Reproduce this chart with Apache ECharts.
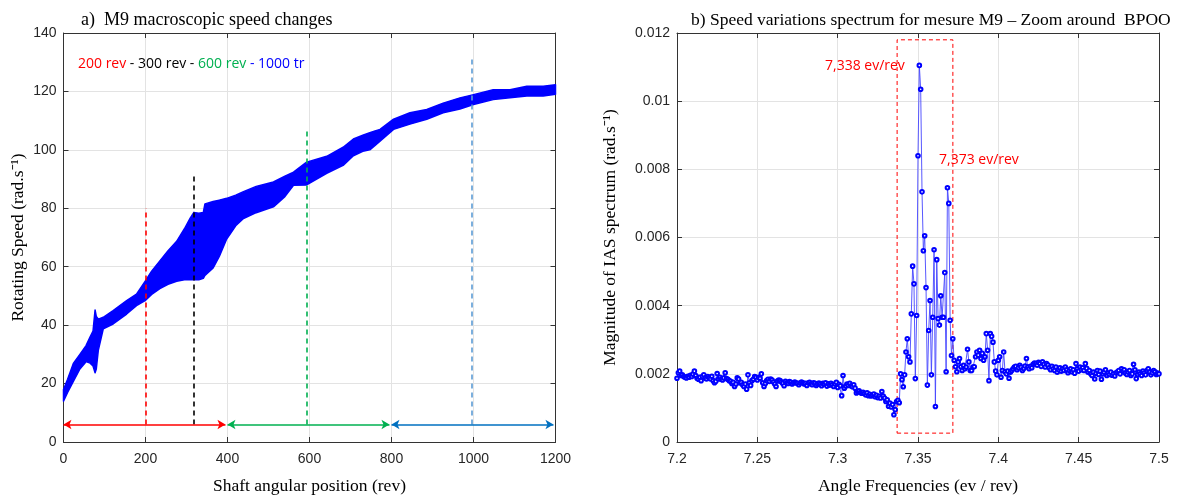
<!DOCTYPE html>
<html>
<head>
<meta charset="utf-8">
<script src="https://cdn.jsdelivr.net/npm/echarts@6.0.0/dist/echarts.min.js"></script>
<style>
html,body{margin:0;padding:0;background:#fff;}
#c{width:1188px;height:500px;}
</style>
</head>
<body>
<div id="c"></div>
<script>
// ---------- Panel a) : macroscopic speed envelope ----------
const posRev    = [0,10,24,40,55,65,72,77,80,85,97,121,154,178,199,215,235,255,276,295,309,318,330,341,345,365,380,398,420,439,470,512,540,561,593,642,682,707,730,747,760,772,805,845,886,926,967,1000,1048,1089,1130,1170,1200];
const speedLow  = [14,17,20.7,25,27.5,27,26,23.7,25,31.5,38.7,40.4,43.8,46.7,48.4,50.5,52.5,54,55,55.5,55.5,55.5,55.5,56,57,59.6,63.5,69.5,74,76.5,78.5,80.5,84,87.9,88,92,94.7,98,99.5,100,101.5,103,107,108.8,110.5,112.7,114,115.5,117.2,117.8,118.4,118.4,119];
const speedHigh = [18,21.5,26.9,30,33,36,38,45.2,43,42,42.7,45,48.4,50.6,55,58.5,62,65.5,68.7,73,76.6,78.6,78.3,78.6,81.5,82.3,82.8,83.4,84.5,85.7,87.5,89,91,92.4,95.8,97.8,100.9,103.7,105,105.9,106.5,107,110.5,112.7,113.8,116,117.8,118.9,120.6,120.6,121.8,121.8,122.3];

// reference marker lines
const markerRev   = [200, 318, 594, 996];
const markerTop   = [80, 91.5, 107, 131];
const markerColor = ['#ff0000', '#000000', '#00b050', '#5b9bd5'];
const markerBottom = 6;

// range arrows
const rangeFrom  = [0, 400, 800];
const rangeTo    = [395, 795, 1195];
const rangeColor = ['#ff0000', '#00b050', '#0070c0'];
const rangeLevel = 6;

// ---------- Panel b) : IAS spectrum (bins k / 1200 ev/rev) ----------
const SPEC_K0 = 8640;
const REV_SPAN = 1200;
const iasMilli = [ // magnitude x 1e-3 rad.s^-1
1.87,2.03,2.08,1.95,1.97,1.92,1.90,1.88,1.93,1.90,
1.96,1.92,1.99,2.08,1.95,1.87,1.84,1.90,1.80,1.92,
1.97,1.88,1.85,1.92,1.88,1.85,1.93,1.80,1.74,1.78,
2.01,1.85,1.90,1.84,1.82,1.88,2.03,1.86,1.84,1.80,
1.78,1.72,1.75,1.63,1.70,1.88,1.85,1.73,1.75,1.68,
1.63,1.70,1.55,1.97,1.74,1.66,1.80,1.84,1.92,1.90,
1.82,1.90,1.87,2.00,1.74,1.63,1.72,1.80,1.84,1.78,
1.85,1.82,1.76,1.70,1.63,1.79,1.82,1.80,1.76,1.72,
1.65,1.78,1.74,1.72,1.77,1.75,1.70,1.74,1.76,1.73,
1.72,1.68,1.73,1.76,1.74,1.70,1.72,1.66,1.73,1.75,
1.71,1.68,1.74,1.72,1.66,1.70,1.73,1.69,1.65,1.72,
1.70,1.74,1.64,1.71,1.67,1.72,1.68,1.63,1.70,1.75,
1.60,1.69,1.65,1.36,1.95,1.58,1.64,1.70,1.66,1.72,
1.65,1.62,1.68,1.58,1.44,1.48,1.50,1.45,1.43,1.46,
1.42,1.38,1.44,1.36,1.40,1.35,1.38,1.41,1.33,1.37,
1.30,1.34,1.29,1.48,1.35,1.29,1.19,1.24,1.05,1.14,
1.03,1.10,0.80,0.95,1.19,1.22,1.15,2.00,1.83,1.62,
1.97,2.64,3.03,2.50,2.35,3.76,5.16,4.64,1.86,3.71,
8.40,11.05,10.35,7.34,5.61,6.05,4.53,1.67,3.27,4.15,
1.97,3.66,5.64,1.04,5.35,3.62,3.43,4.29,3.66,3.66,
4.97,2.06,7.46,7.00,3.57,2.54,3.03,2.40,2.21,2.06,
2.35,2.45,2.21,2.10,2.25,2.15,2.20,2.72,2.35,2.10,
2.10,2.20,2.21,2.50,2.64,2.55,2.69,2.45,2.60,2.40,
2.50,3.18,2.69,1.80,3.18,3.10,2.93,2.35,2.08,1.97,
2.40,2.50,1.90,2.10,2.64,2.06,2.00,2.08,1.87,2.05,
2.10,2.15,2.20,2.22,2.12,2.18,2.25,2.20,2.10,2.16,
2.23,2.45,2.20,2.15,2.22,2.18,2.28,2.32,2.30,2.25,
2.34,2.30,2.22,2.35,2.28,2.20,2.30,2.26,2.18,2.12,
2.22,2.15,2.10,2.20,2.05,2.12,2.18,2.08,2.15,2.10,
2.20,2.12,2.03,2.10,2.15,2.06,2.12,2.02,2.30,2.15,
2.08,2.20,2.12,2.18,2.10,2.30,2.16,2.05,2.10,2.00,
1.95,2.05,1.85,2.02,2.10,1.98,2.08,1.84,2.00,2.05,
2.12,1.95,2.02,1.98,2.05,1.96,2.00,1.94,2.03,2.06,
2.10,2.00,2.15,2.08,2.12,2.02,1.98,2.05,2.10,1.95,
2.00,2.28,2.12,1.86,1.98,2.05,2.00,1.95,2.08,2.02,
1.97,2.10,2.15,2.05,1.97,2.03,2.10,2.06,1.98,2.02,
2.00];

// zoom box around BPOO
const boxFreq = [7.337, 7.3717];
const boxMag  = [0.00026, 0.0118];

const leftXTicks  = {min:0, max:1200, interval:200};
const leftYTicks  = {min:0, max:140, interval:20};
const rightXTicks = {min:7.2, max:7.5, interval:0.05};
const rightYTicks = {min:0, max:0.012, interval:0.002};

// ---------- build ----------
const bandData = posRev.map((x,i)=>[x, speedLow[i], speedHigh[i]]);
const specData = iasMilli.map((v,i)=>[(SPEC_K0+i)/REV_SPAN, v/1000]);

const markerLines = markerRev.map((x,i)=>[
  {coord:[x, markerBottom], lineStyle:{color:markerColor[i], type:[5,4], width:1.6}},
  {coord:[x, markerTop[i]]}
]);
const rangeLines = rangeFrom.map((x,i)=>[
  {coord:[x, rangeLevel], lineStyle:{color:rangeColor[i], type:'solid', width:1.6}, itemStyle:{color:rangeColor[i]}},
  {coord:[rangeTo[i], rangeLevel]}
]);

const axisCol = '#333333';
const gridCol = '#e3e3e3';
const labFont = {fontFamily:'Liberation Sans, Arial, sans-serif', fontSize:14, color:'#262626'};
const nameFont = {fontFamily:'Liberation Serif, Times New Roman, serif', fontSize:17.5, color:'#000'};
const titleFontA = {fontFamily:'Liberation Serif, Times New Roman, serif', fontSize:18, fontWeight:'normal', color:'#000'};
const titleFontB = {fontFamily:'Liberation Serif, Times New Roman, serif', fontSize:17.5, fontWeight:'normal', color:'#000'};
const plainNum = v => String(+v.toFixed(6));

function xAx(gi, t, name, nameGap){
  return {type:'value', gridIndex:gi, min:t.min, max:t.max, interval:t.interval, position:'bottom',
    name:name, nameLocation:'middle', nameGap:nameGap, nameTextStyle:nameFont,
    axisLine:{show:true, onZero:false, lineStyle:{color:axisCol, width:1}},
    axisTick:{show:true, inside:true, length:5, lineStyle:{color:axisCol}},
    axisLabel:Object.assign({margin:10, formatter:plainNum}, labFont),
    splitLine:{show:true, lineStyle:{color:gridCol, width:1}}};
}
function xAxTop(gi, t){
  return {type:'value', gridIndex:gi, min:t.min, max:t.max, interval:t.interval, position:'top',
    axisLine:{show:true, onZero:false, lineStyle:{color:axisCol, width:1}},
    axisTick:{show:true, inside:true, length:5, lineStyle:{color:axisCol}},
    axisLabel:{show:false}, splitLine:{show:false}};
}
function yAx(gi, t, name, nameGap){
  return {type:'value', gridIndex:gi, min:t.min, max:t.max, interval:t.interval, position:'left',
    name:name, nameLocation:'middle', nameGap:nameGap, nameTextStyle:nameFont,
    axisLine:{show:true, onZero:false, lineStyle:{color:axisCol, width:1}},
    axisTick:{show:true, inside:true, length:5, lineStyle:{color:axisCol}},
    axisLabel:Object.assign({margin:7, formatter:plainNum}, labFont),
    splitLine:{show:true, lineStyle:{color:gridCol, width:1}}};
}
function yAxRight(gi, t){
  return {type:'value', gridIndex:gi, min:t.min, max:t.max, interval:t.interval, position:'right',
    axisLine:{show:true, onZero:false, lineStyle:{color:axisCol, width:1}},
    axisTick:{show:true, inside:true, length:5, lineStyle:{color:axisCol}},
    axisLabel:{show:false}, splitLine:{show:false}};
}

function renderBand(params, api){
  if (params.dataIndex !== 0) return null;
  const top = [], bot = [];
  for (let i = 0; i < posRev.length; i++){
    top.push(api.coord([posRev[i], speedHigh[i]]));
    bot.push(api.coord([posRev[i], speedLow[i]]));
  }
  return {type:'polygon', shape:{points: top.concat(bot.reverse())},
    style:{fill:'#0000ff', stroke:'#0000ff', lineWidth:1.5, lineJoin:'round'}};
}

const chart = echarts.init(document.getElementById('c'), null, {renderer:'canvas'});
chart.setOption({
  animation:false,
  backgroundColor:'#ffffff',
  title:[
    {text:'a)  M9 macroscopic speed changes', left:76, top:6, textStyle:titleFontA},
    {text:'b) Speed variations spectrum for mesure M9 \u2013 Zoom around  BPOO', left:686, top:6, textStyle:titleFontB}
  ],
  grid:[
    {left:63.5, top:33, width:492, height:413},
    {left:677, top:33, width:482, height:413}
  ],
  xAxis:[
    xAx(0, leftXTicks, 'Shaft angular position (rev)', 35),
    xAx(1, rightXTicks, 'Angle Frequencies (ev / rev)', 35),
    xAxTop(0, leftXTicks),
    xAxTop(1, rightXTicks)
  ],
  yAxis:[
    yAx(0, leftYTicks, 'Rotating Speed (rad.s\u207B\u00B9)', 36),
    yAx(1, rightYTicks, 'Magnitude of IAS spectrum (rad.s\u207B\u00B9)', 58),
    yAxRight(0, leftYTicks),
    yAxRight(1, rightYTicks)
  ],
  series:[
    {type:'custom', name:'speed', xAxisIndex:0, yAxisIndex:0, data:bandData,
     encode:{x:0, y:[1,2]}, renderItem:renderBand, silent:true, z:2},
    {type:'line', name:'markers', xAxisIndex:0, yAxisIndex:0, data:[], silent:true,
     markLine:{silent:true, symbol:['none','none'], label:{show:false}, data:markerLines, z:5}},
    {type:'line', name:'ranges', xAxisIndex:0, yAxisIndex:0, data:[], silent:true,
     markLine:{silent:true, symbol:['arrow','arrow'], symbolSize:[7,8], label:{show:false}, data:rangeLines, z:5}},
    {type:'line', name:'spectrum', xAxisIndex:1, yAxisIndex:1, data:specData,
     symbol:'emptyCircle', symbolSize:3.6, showAllSymbol:true,
     lineStyle:{color:'#4545ff', width:0.9},
     itemStyle:{color:'#0000ff', borderColor:'#0000ff', borderWidth:0.9},
     markArea:{silent:true, label:{show:false},
       itemStyle:{color:'rgba(0,0,0,0)', borderColor:'#ff0000', borderWidth:1, borderType:[4,3]},
       data:[[{coord:[boxFreq[0], boxMag[0]]},{coord:[boxFreq[1], boxMag[1]]}]]},
     z:3}
  ],
  graphic:[
    {type:'text', left:78, top:57, z:10,
     style:{text:'{r|200 rev}{k| - 300 rev - }{g|600 rev}{b| - 1000 tr}',
       rich:{
         r:{fill:'#ff0000', fontFamily:'Open Sans, Noto Sans, sans-serif', fontSize:14},
         k:{fill:'#000000', fontFamily:'Open Sans, Noto Sans, sans-serif', fontSize:14},
         g:{fill:'#00b050', fontFamily:'Open Sans, Noto Sans, sans-serif', fontSize:14},
         b:{fill:'#0000ff', fontFamily:'Open Sans, Noto Sans, sans-serif', fontSize:14}
       }}},
    {type:'text', left:825, top:59, z:10,
     style:{text:'7,338 ev/rev', fill:'#ff0000', fontFamily:'Open Sans, Noto Sans, sans-serif', fontSize:14}},
    {type:'text', left:939, top:153, z:10,
     style:{text:'7,373 ev/rev', fill:'#ff0000', fontFamily:'Open Sans, Noto Sans, sans-serif', fontSize:14}}
  ]
});
</script>
</body>
</html>
